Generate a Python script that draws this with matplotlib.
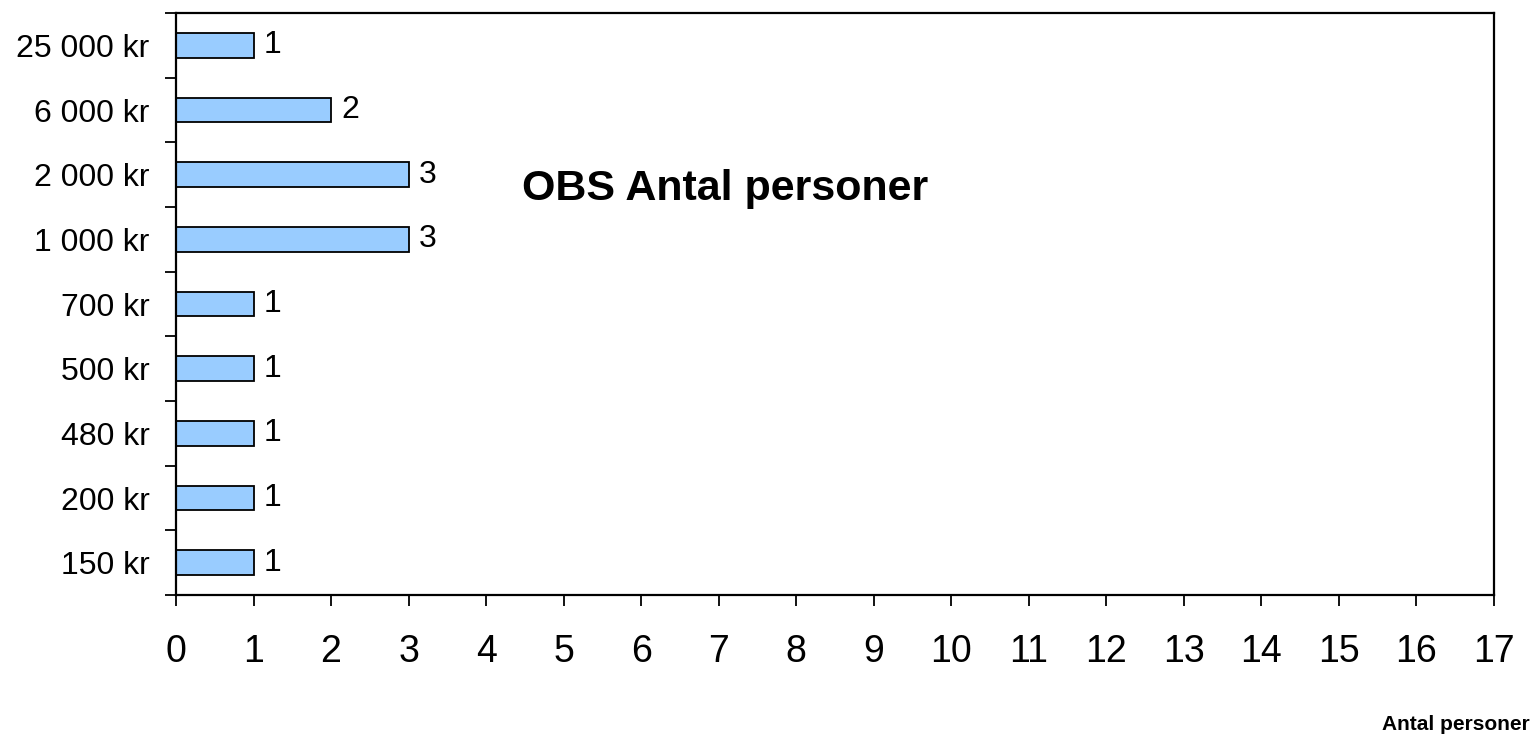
import numpy as np
import matplotlib.pyplot as plt

plt.rcParams['font.family'] = ['Liberation Sans', 'DejaVu Sans']

# belopp (kategorier) och antal personer per belopp
belopp = ['150 kr', '200 kr', '480 kr', '500 kr', '700 kr',
          '1 000 kr', '2 000 kr', '6 000 kr', '25 000 kr']
antal = [1, 1, 1, 1, 1, 3, 3, 2, 1]
x_ticks = list(range(0, 18))

fig = plt.figure(figsize=(15.37, 7.4), dpi=100)
ax = fig.add_axes([176 / 1537, 1 - 595 / 740, (1494 - 176) / 1537, (595 - 13) / 740])

pos = np.arange(len(belopp))
ax.barh(pos, antal, height=0.38, color='#99CCFF', edgecolor='black', linewidth=1.3)

for p, v in zip(pos, antal):
    ax.text(v + 0.13, p, str(v), va='center', ha='left', fontsize=23)

ax.set_xlim(0, 17)
ax.set_ylim(-0.5, len(belopp) - 0.5)
ax.set_xticks(x_ticks)
ax.set_xticklabels([str(t) for t in x_ticks], fontsize=27)

# tick marks sit between the categories, labels in the middle
ax.set_yticks(np.arange(-0.5, len(belopp), 1.0))
ax.set_yticklabels([])
ax.set_yticks(pos, minor=True)
ax.set_yticklabels(belopp, minor=True, fontsize=23)
ax.tick_params(axis='y', which='minor', length=0, pad=19)
ax.tick_params(axis='y', which='major', length=8, width=1.3, direction='out')
ax.tick_params(axis='x', length=8, width=1.3, direction='out', pad=20)

for s in ax.spines.values():
    s.set_linewidth(1.6)

fig.text(725 / 1537, 1 - 200 / 740, 'OBS Antal personer', ha='center', va='baseline',
         fontsize=31, fontweight='bold')
fig.text(1530 / 1537, 1 - 730 / 740, 'Antal personer', ha='right', va='baseline',
         fontsize=15, fontweight='bold')

fig.savefig('out.png', dpi=100)
